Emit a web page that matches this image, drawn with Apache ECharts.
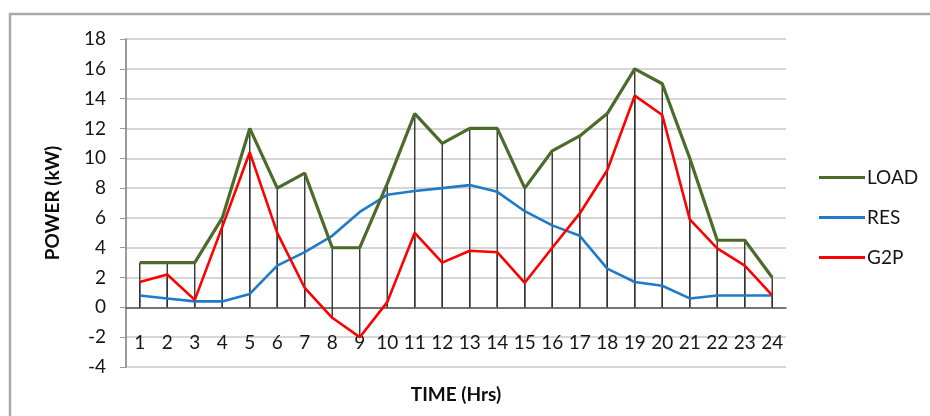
<!DOCTYPE html>
<html>
<head>
<meta charset="utf-8">
<script src="https://cdn.jsdelivr.net/npm/echarts@6/dist/echarts.min.js"></script>
<style>
  html, body { margin: 0; padding: 0; background: #fff; }
  #chart { width: 930px; height: 416px; }
</style>
</head>
<body>
<div id="chart"></div>
<script>
const hours = ['1','2','3','4','5','6','7','8','9','10','11','12','13','14','15','16','17','18','19','20','21','22','23','24'];
const loadValues = [3, 3, 3, 6, 12, 8, 9, 4, 4, 8.3, 13, 11, 12, 12, 8, 10.5, 11.5, 13, 16, 15, 10, 4.5, 4.5, 2];
const resValues = [0.8, 0.6, 0.4, 0.4, 0.9, 2.8, 3.7, 4.8, 6.4, 7.55, 7.8, 8.0, 8.2, 7.75, 6.45, 5.5, 4.8, 2.6, 1.7, 1.45, 0.6, 0.8, 0.8, 0.8];
const g2pValues = [1.7, 2.2, 0.5, 5.4, 10.4, 5.0, 1.3, -0.7, -2.0, 0.35, 5.0, 3.0, 3.8, 3.7, 1.65, 4.0, 6.3, 9.2, 14.2, 12.9, 5.9, 3.95, 2.8, 0.8];
const seriesNames = ['LOAD', 'RES', 'G2P'];
const yTicks = { min: -4, max: 18, interval: 2 };

const FONT = 'Lato, "Open Sans", sans-serif';
const chart = echarts.init(document.getElementById('chart'), null, { renderer: 'canvas' });

const dropStyle = { color: '#333333' };

chart.setOption({
  animation: false,
  backgroundColor: '#ffffff',
  graphic: [{
    type: 'rect',
    shape: { x: 10, y: 14, width: 1000, height: 600 },
    style: { fill: 'none', stroke: '#a9a9a9', lineWidth: 2.5 },
    silent: true
  }],
  grid: { left: 126, right: 144, top: 39, bottom: 49, containLabel: false, outerBoundsMode: 'none' },
  legend: {
    orient: 'vertical',
    left: 819,
    top: 168,
    padding: 0,
    itemWidth: 46,
    itemHeight: 3,
    itemGap: 21,
    icon: 'rect',
    textStyle: { fontFamily: FONT, fontSize: 19, color: '#151515', padding: [0, 0, 0, -3] },
    data: seriesNames
  },
  xAxis: {
    type: 'category',
    data: hours,
    boundaryGap: true,
    name: 'TIME (Hrs)',
    nameLocation: 'middle',
    nameGap: 18,
    nameTextStyle: { fontFamily: FONT, fontSize: 19, fontWeight: 'bold', color: '#0d0d0d' },
    axisLine: { onZero: true, lineStyle: { color: '#555555', width: 1.5 } },
    axisTick: { show: false },
    axisLabel: { fontFamily: FONT, fontSize: 19, color: '#151515', margin: -34, interval: 0 },
    splitLine: { show: false }
  },
  yAxis: {
    type: 'value',
    min: yTicks.min,
    max: yTicks.max,
    interval: yTicks.interval,
    name: 'POWER (kW)',
    nameLocation: 'middle',
    nameRotate: 90,
    nameGap: 64,
    nameTextStyle: { fontFamily: FONT, fontSize: 19, fontWeight: 'bold', color: '#0d0d0d' },
    axisLine: { show: true, lineStyle: { color: '#7a7a7a', width: 1.5 } },
    axisTick: { show: true, inside: false, length: 6, lineStyle: { color: '#9a9a9a' } },
    axisLabel: { fontFamily: FONT, fontSize: 19, color: '#151515', margin: 20 },
    splitLine: { show: true, lineStyle: { color: '#d6d6d6', width: 2 } }
  },
  series: [
    {
      name: 'dropLoad', type: 'bar', data: loadValues, barWidth: 1.4, barGap: '-100%',
      itemStyle: dropStyle, silent: true, z: 1
    },
    {
      name: 'dropG2P', type: 'bar', data: g2pValues, barWidth: 1.4, barGap: '-100%',
      itemStyle: dropStyle, silent: true, z: 1
    },
    {
      name: 'LOAD', type: 'line', data: loadValues, symbol: 'none',
      lineStyle: { color: '#4a6b2a', width: 3.2 }, itemStyle: { color: '#4a6b2a' }, z: 4
    },
    {
      name: 'RES', type: 'line', data: resValues, symbol: 'none',
      lineStyle: { color: '#1f7ac9', width: 2.6 }, itemStyle: { color: '#1f7ac9' }, z: 3
    },
    {
      name: 'G2P', type: 'line', data: g2pValues, symbol: 'none',
      lineStyle: { color: '#ff0000', width: 2.6 }, itemStyle: { color: '#ff0000' }, z: 3
    }
  ]
});
</script>
</body>
</html>
